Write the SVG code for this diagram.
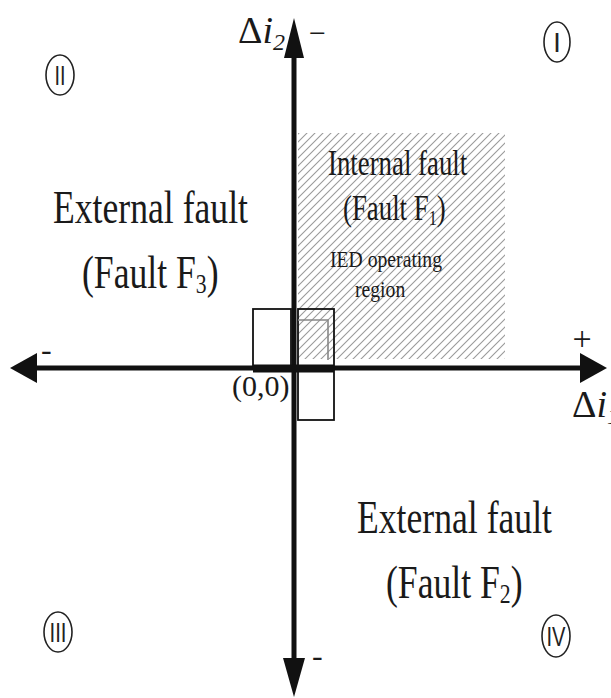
<svg xmlns="http://www.w3.org/2000/svg" width="611" height="698" viewBox="0 0 611 698">
<style>
  .t { font-family: "Liberation Serif", "Times New Roman", serif; fill: #1a1a1a; }
  .rn { font-family: "Liberation Sans", Arial, sans-serif; fill: #222; text-anchor: middle; }
  .ell { fill: none; stroke: #222; stroke-width: 1.6; }
  .axis { stroke: #111; stroke-width: 5; fill: none; }
  .head { fill: #111; stroke: none; }
  .sq { fill: none; stroke: #111; stroke-width: 1.8; }
  .inner { fill: none; stroke: #888; stroke-width: 1.6; }
</style>
<defs>
  <pattern id="hatch" patternUnits="userSpaceOnUse" width="8" height="8">
    <path d="M0,8 L8,0 M-2,2 L2,-2 M6,10 L10,6" stroke="#9a9a9a" stroke-width="1.1"/>
  </pattern>
</defs>
<rect width="611" height="698" fill="#fff"/>

<g id="operating-region">
  <rect x="298" y="133" width="207" height="226" fill="url(#hatch)"/>
</g>

<g id="connectors">
  <line class="axis" x1="294" y1="50" x2="294" y2="665"/>
  <line class="axis" x1="30" y1="368" x2="585" y2="368"/>
  <polygon class="head" points="294,18 284,58 304,58"/>
  <polygon class="head" points="294,697 283,658 305,658"/>
  <polygon class="head" points="10,368 37,353 37,383"/>
  <polygon class="head" points="607,368 580,353 580,383"/>
</g>

<g id="squares">
  <rect class="sq" x="253" y="309" width="38" height="59"/>
  <rect class="sq" x="298" y="309" width="36" height="59"/>
  <rect class="sq" x="298" y="368" width="36" height="52"/>
  <rect x="253" y="364.5" width="81" height="8" fill="#111"/>
  <path class="inner" d="M298,320 L328,320 L328,360"/>
</g>

<g id="axis-labels">
  <text class="t" x="238" y="43" font-size="38">Δ<tspan font-style="italic">i</tspan><tspan font-size="24" dy="7" font-style="italic">2</tspan></text>
  <text class="t" x="309" y="43" font-size="30">−</text>
  <text class="t" x="572" y="417" font-size="38">Δ<tspan font-style="italic">i</tspan><tspan font-size="24" dy="7" font-style="italic">1</tspan></text>
  <text class="t" x="582" y="350" font-size="34" text-anchor="middle">+</text>
  <text class="t" x="41" y="360" font-size="32">-</text>
  <text class="t" x="312" y="666" font-size="32">-</text>
  <text class="t" x="232" y="396" font-size="30">(0,0)</text>
</g>

<g id="quadrant-I">
  <ellipse class="ell" cx="557" cy="42" rx="13" ry="20"/>
  <text class="rn" x="557" y="52" font-size="27">I</text>
</g>
<g id="quadrant-II">
  <ellipse class="ell" cx="60" cy="75" rx="14" ry="20"/>
  <text class="rn" x="60" y="85" font-size="27" textLength="11" lengthAdjust="spacingAndGlyphs">II</text>
</g>
<g id="quadrant-III">
  <ellipse class="ell" cx="58" cy="632" rx="14" ry="20"/>
  <text class="rn" x="58" y="642" font-size="27" textLength="17" lengthAdjust="spacingAndGlyphs">III</text>
</g>
<g id="quadrant-IV">
  <ellipse class="ell" cx="556" cy="636" rx="14" ry="21"/>
  <text class="rn" x="556" y="646" font-size="27" textLength="19" lengthAdjust="spacingAndGlyphs">IV</text>
</g>

<g id="external-fault-F3">
  <g transform="translate(53,223) scale(0.775,1)">
    <text class="t" x="0" y="0" font-size="46">External fault</text>
  </g>
  <g transform="translate(82,288) scale(0.775,1)">
    <text class="t" x="0" y="0" font-size="46">(Fault F<tspan font-size="28" dy="5">3</tspan><tspan dy="-5">)</tspan></text>
  </g>
</g>

<g id="internal-fault-F1">
  <g transform="translate(328,175) scale(0.745,1)">
    <text class="t" x="0" y="0" font-size="36">Internal fault</text>
  </g>
  <g transform="translate(343,220) scale(0.745,1)">
    <text class="t" x="0" y="0" font-size="36">(Fault F<tspan font-size="22" dy="5">1</tspan><tspan dy="-5">)</tspan></text>
  </g>
  <g transform="translate(330,267) scale(0.82,1)">
    <text class="t" x="0" y="0" font-size="24">IED operating</text>
  </g>
  <g transform="translate(355,297) scale(0.82,1)">
    <text class="t" x="0" y="0" font-size="24">region</text>
  </g>
</g>

<g id="external-fault-F2">
  <g transform="translate(357,533) scale(0.775,1)">
    <text class="t" x="0" y="0" font-size="46">External fault</text>
  </g>
  <g transform="translate(386,598) scale(0.775,1)">
    <text class="t" x="0" y="0" font-size="46">(Fault F<tspan font-size="28" dy="5">2</tspan><tspan dy="-5">)</tspan></text>
  </g>
</g>
</svg>
